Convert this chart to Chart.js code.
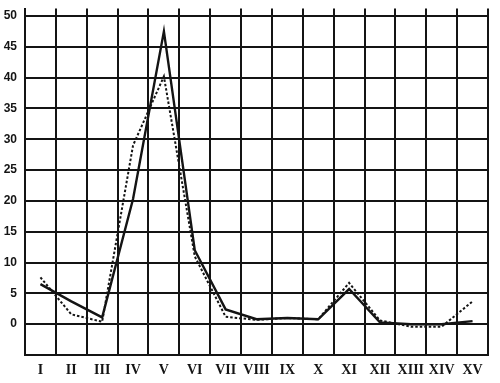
<!DOCTYPE html>
<html>
<head>
<meta charset="utf-8">
<script src="https://cdn.jsdelivr.net/npm/chart.js@4/dist/chart.umd.min.js"></script>
<style>
  html, body { margin: 0; padding: 0; background: #fff; }
  #grafico { display: block; }
</style>
</head>
<body>
<canvas id="grafico" width="500" height="383"></canvas>
<script>
// periods along the bottom axis
const periodos = ['I', 'II', 'III', 'IV', 'V', 'VI', 'VII', 'VIII', 'IX', 'X', 'XI', 'XII', 'XIII', 'XIV', 'XV'];

// solid curve
const serieCheia = [6.5, 3.7, 1.1, 20.3, 47.5, 12, 2.4, 0.8, 1.0, 0.8, 5.7, 0.3, 0, 0, 0.5];
// dotted curve
const seriePontilhada = [7.6, 1.6, 0.4, 29, 40.2, 11, 1.2, 0.7, 1.0, 0.8, 6.7, 0.6, -0.4, -0.4, 3.7];

const tinta = '#141414';

const contexto = document.getElementById('grafico').getContext('2d');

new Chart(contexto, {
    type: 'line',
    data: {
        labels: periodos,
        datasets: [
            {
                data: serieCheia,
                borderColor: tinta,
                borderWidth: 2.4,
                pointRadius: 0,
                tension: 0,
                fill: false,
            },
            {
                data: seriePontilhada,
                borderColor: tinta,
                borderWidth: 2,
                borderDash: [2.5, 2],
                pointRadius: 0,
                tension: 0,
                fill: false,
            },
        ],
    },
    options: {
        responsive: false,
        animation: false,
        layout: {
            padding: { top: 8.6, right: 12, left: 0, bottom: 0 },
        },
        plugins: {
            legend: { display: false },
            tooltip: { enabled: false },
        },
        scales: {
            x: {
                offset: true,
                afterFit: (escala) => {
                    escala.height = 28;
                    escala.paddingLeft = 0;
                    escala.paddingRight = 0;
                },
                grid: {
                    offset: true,
                    color: tinta,
                    lineWidth: 2,
                    drawTicks: false,
                },
                border: { color: tinta, width: 2 },
                ticks: {
                    color: tinta,
                    padding: 7,
                    maxRotation: 0,
                    autoSkip: false,
                    font: { family: '"Liberation Serif", "DejaVu Serif", serif', size: 14, weight: 'bold' },
                },
            },
            y: {
                min: -5,
                max: 51.2,
                afterFit: (escala) => {
                    escala.width = 25;
                    escala.paddingTop = 0;
                    escala.paddingBottom = 0;
                },
                grid: {
                    color: tinta,
                    lineWidth: 2,
                    drawTicks: false,
                },
                border: { color: tinta, width: 2 },
                ticks: {
                    stepSize: 5,
                    includeBounds: false,
                    color: tinta,
                    padding: 8,
                    font: { family: '"Liberation Sans Narrow", "Liberation Sans", sans-serif', size: 12, weight: 'bold' },
                    callback: (valor) => (valor >= 0 && valor % 5 === 0 ? String(valor) : ''),
                },
            },
        },
    },
});
</script>
</body>
</html>
